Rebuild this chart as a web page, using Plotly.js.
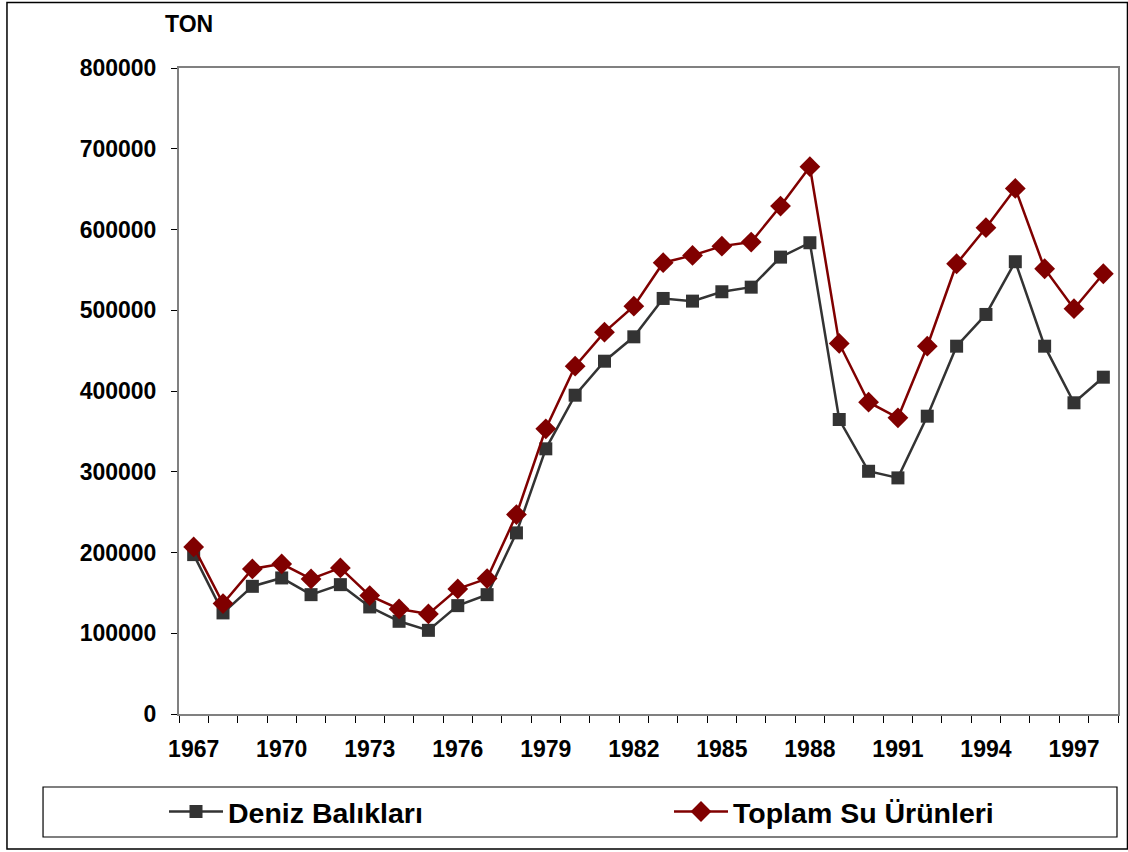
<!DOCTYPE html>
<html>
<head>
<meta charset="utf-8">
<script src="https://cdn.plot.ly/plotly-3.0.1.min.js"></script>
<style>html,body{margin:0;padding:0;background:#fff;}</style>
</head>
<body>
<div id="chart" style="width:1128px;height:852px;"></div>
<script>
var years = [1967,1968,1969,1970,1971,1972,1973,1974,1975,1976,1977,1978,1979,1980,1981,1982,1983,1984,1985,1986,1987,1988,1989,1990,1991,1992,1993,1994,1995,1996,1997,1998];
var denizBaliklari = [197400,125200,158100,168500,147800,160200,132600,114800,103600,134200,147800,224300,328400,394800,436900,467100,514600,511300,522900,528600,565800,583600,364700,300600,292400,368800,455500,494800,560100,455500,385400,417100];
var toplamSuUrunleri = [206900,136700,179700,185900,167300,180900,146600,130100,123900,154900,167700,247000,353200,430700,472900,505100,558900,567900,579400,584400,629000,677800,458900,386100,366800,455500,557600,602200,650900,551400,501900,545200];
var labelYears = [1967,1970,1973,1976,1979,1982,1985,1988,1991,1994,1997];
var seriesNames = ["Deniz Balıkları","Toplam Su Ürünleri"];
var yTicks = [0,100000,200000,300000,400000,500000,600000,700000,800000];

var font = "Liberation Sans, Arial, sans-serif";
var tickSize = 23;

var traces = [
  {x: years, y: denizBaliklari, name: seriesNames[0], type: "scatter", mode: "lines+markers", legend: "legend",
   line: {color: "#333333", width: 2.5}, marker: {symbol: "square", size: 13, color: "#333333"}},
  {x: years, y: toplamSuUrunleri, name: seriesNames[1], type: "scatter", mode: "lines+markers", legend: "legend2",
   line: {color: "#800000", width: 2.5}, marker: {symbol: "diamond", size: 16, color: "#800000"}},
  {x: labelYears, y: labelYears.map(function(){return null;}), xaxis: "x2", showlegend: false, hoverinfo: "skip", type: "scatter"}
];

var legendCommon = {
  orientation: "h", xanchor: "left", yanchor: "middle", y: -0.1517,
  itemwidth: 54,
  font: {family: font, size: 28.5, color: "#000", weight: "bold"},
  bgcolor: "rgba(0,0,0,0)", borderwidth: 0
};
var leg1 = Object.assign({}, legendCommon, {x: (164-179)/939});
var leg2 = Object.assign({}, legendCommon, {x: (669-179)/939});

var layout = {
  width: 1128, height: 852,
  margin: {l: 179, r: 10, t: 68, b: 138},
  paper_bgcolor: "#fff", plot_bgcolor: "#fff",
  font: {family: font, color: "#000", size: tickSize},
  showlegend: true,
  legend: leg1,
  legend2: leg2,
  xaxis: {
    range: [1966.5, 1998.5], tickmode: "linear", tick0: 1966.5, dtick: 1,
    ticks: "outside", ticklen: 7, tickwidth: 1, tickcolor: "#000",
    showticklabels: false, showgrid: false, zeroline: false,
    showline: true, linecolor: "#808080", linewidth: 2, mirror: true, fixedrange: true
  },
  xaxis2: {
    overlaying: "x", matches: "x", anchor: "y", side: "bottom",
    tickmode: "array", tickvals: labelYears, ticktext: labelYears.map(String),
    ticks: "", showgrid: false, zeroline: false, showline: false,
    tickfont: {family: font, size: tickSize, color: "#000", weight: "bold"},
    ticklabelstandoff: 19
  },
  yaxis: {
    range: [0, 800000], tickmode: "array", tickvals: yTicks, ticktext: yTicks.map(String),
    ticks: "outside", ticklen: 6, tickcolor: "#000", showgrid: false, zeroline: false,
    showline: true, linecolor: "#808080", linewidth: 2, mirror: true,
    tickfont: {family: font, size: tickSize, color: "#000", weight: "bold"},
    ticklabelstandoff: 10
  },
  annotations: [
    {text: "TON", xref: "paper", yref: "paper", x: (189-179)/939, y: (714-24)/646,
     xanchor: "center", yanchor: "middle", showarrow: false,
     font: {family: font, size: tickSize, color: "#000", weight: "bold"}}
  ],
  shapes: [
    {type: "rect", xref: "paper", yref: "paper", x0: -0.1832, x1: 1.0101, y0: -0.209, y1: 1.1014,
     line: {color: "#000", width: 1.5}, fillcolor: "rgba(0,0,0,0)", layer: "below"},
    {type: "rect", xref: "paper", yref: "paper", x0: -0.1448, x1: 0.99893, y0: -0.1904, y1: -0.1130,
     line: {color: "#000", width: 1.2}, fillcolor: "rgba(0,0,0,0)", layer: "below"}
  ]
};

Plotly.newPlot("chart", traces, layout, {displayModeBar: false, staticPlot: true});
</script>
</body>
</html>
